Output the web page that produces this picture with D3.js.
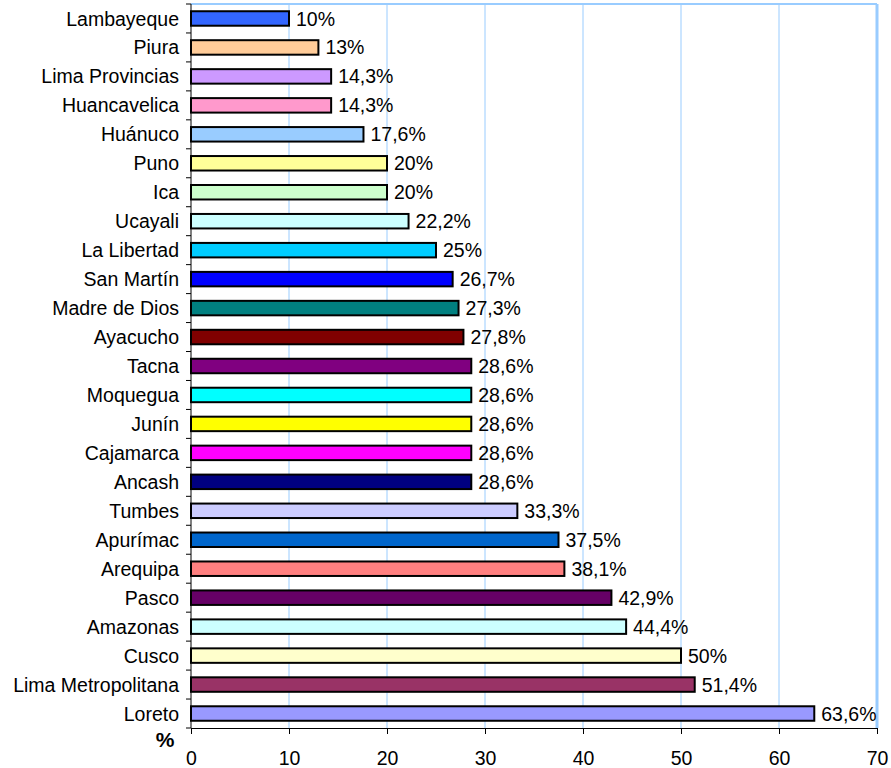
<!DOCTYPE html>
<html>
<head>
<meta charset="utf-8">
<script src="https://cdn.jsdelivr.net/npm/d3@7"></script>
<style>
  body { margin: 0; background: #fff; }
  text { font-family: "Liberation Sans", Arial, sans-serif; }
</style>
</head>
<body>
<div id="chart"></div>
<script>
const regions = ["Lambayeque", "Piura", "Lima Provincias", "Huancavelica", "Huánuco", "Puno", "Ica",
  "Ucayali", "La Libertad", "San Martín", "Madre de Dios", "Ayacucho", "Tacna", "Moquegua", "Junín",
  "Cajamarca", "Ancash", "Tumbes", "Apurímac", "Arequipa", "Pasco", "Amazonas", "Cusco",
  "Lima Metropolitana", "Loreto"];
const values = [10, 13, 14.3, 14.3, 17.6, 20, 20, 22.2, 25, 26.7, 27.3, 27.8, 28.6, 28.6, 28.6,
  28.6, 28.6, 33.3, 37.5, 38.1, 42.9, 44.4, 50, 51.4, 63.6];
const barColors = ["#3366ff", "#ffcc99", "#cc99ff", "#ff99cc", "#99ccff", "#ffff99", "#ccffcc",
  "#ccffff", "#00ccff", "#0000ff", "#008080", "#800000", "#800080", "#00ffff", "#ffff00",
  "#ff00ff", "#000080", "#ccccff", "#0066cc", "#ff8080", "#660066", "#ccffff", "#ffffcc",
  "#993366", "#9999ff"];
const xTicks = [0, 10, 20, 30, 40, 50, 60, 70];

const data = regions.map((r, i) => ({ region: r, value: values[i], color: barColors[i] }));

const margin = { top: 4, right: 14, bottom: 40, left: 191 };
const width = 891 - margin.left - margin.right;
const height = 768 - margin.top - margin.bottom;

const svg = d3.select("#chart").append("svg")
  .attr("width", 891)
  .attr("height", 768)
  .append("g")
  .attr("transform", `translate(${margin.left},${margin.top})`);

const x = d3.scaleLinear().domain([0, 70]).range([0, width]);
const y = d3.scaleBand().domain(regions).range([0, height]).paddingInner(0.5).paddingOuter(0.25);
const yEdges = d3.scaleLinear().domain([0, regions.length]).range([0, height]);

// gridlines
svg.selectAll(".grid")
  .data(xTicks.slice(1))
  .enter().append("line")
  .attr("x1", d => x(d)).attr("x2", d => x(d))
  .attr("y1", 0).attr("y2", height)
  .attr("stroke", "#99ccff").attr("stroke-width", 1);

// top and right frame
svg.append("line").attr("x1", 0).attr("x2", width).attr("y1", 0).attr("y2", 0)
  .attr("stroke", "#99ccff").attr("stroke-width", 2);
svg.append("line").attr("x1", width).attr("x2", width).attr("y1", 0).attr("y2", height)
  .attr("stroke", "#99ccff").attr("stroke-width", 3);

// bars
svg.selectAll(".bar")
  .data(data)
  .enter().append("rect")
  .attr("class", "bar")
  .attr("x", x(0))
  .attr("y", d => y(d.region))
  .attr("width", d => x(d.value) - x(0))
  .attr("height", y.bandwidth())
  .attr("fill", d => d.color)
  .attr("stroke", "#000")
  .attr("stroke-width", 2);

// value labels
svg.selectAll(".val")
  .data(data)
  .enter().append("text")
  .attr("x", d => x(d.value) + 7)
  .attr("y", d => y(d.region) + y.bandwidth() / 2)
  .attr("dy", "0.36em")
  .attr("font-size", 19.5)
  .text(d => String(d.value).replace(".", ",") + "%");

// left axis
svg.append("line").attr("x1", 0).attr("x2", 0).attr("y1", 0).attr("y2", height)
  .attr("stroke", "#000").attr("stroke-width", 1);
svg.selectAll(".ytick")
  .data(d3.range(regions.length + 1))
  .enter().append("line")
  .attr("x1", -5).attr("x2", 0)
  .attr("y1", d => yEdges(d)).attr("y2", d => yEdges(d))
  .attr("stroke", "#000");
svg.selectAll(".ylab")
  .data(data)
  .enter().append("text")
  .attr("x", -12)
  .attr("y", d => y(d.region) + y.bandwidth() / 2)
  .attr("dy", "0.36em")
  .attr("text-anchor", "end")
  .attr("font-size", 19.5)
  .text(d => d.region);

// bottom axis
const xAxis = svg.append("g")
  .attr("transform", `translate(0,${height})`)
  .call(d3.axisBottom(x).tickValues(xTicks).tickSize(6).tickPadding(17));
xAxis.select(".domain").attr("stroke", "#000");
xAxis.selectAll("text").attr("font-size", 19.5).attr("fill", "#000")
  .style("font-family", "'Liberation Sans', Arial, sans-serif");

svg.append("text")
  .attr("x", -26).attr("y", height + 19)
  .attr("text-anchor", "middle")
  .attr("font-size", 21).attr("font-weight", "bold")
  .text("%");
</script>
</body>
</html>
